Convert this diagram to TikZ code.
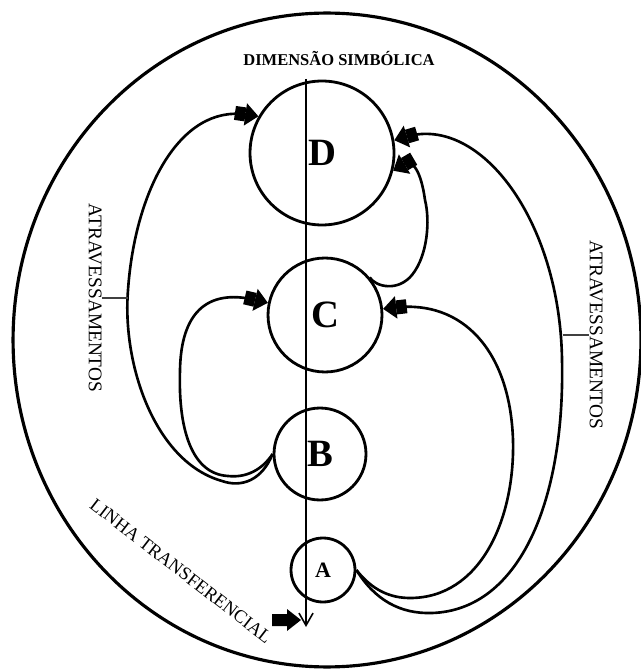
\documentclass[tikz,border=0pt]{standalone}
\usepackage{fontspec}
\setmainfont{Liberation Serif}
\usetikzlibrary{arrows.meta}
\begin{document}
\begin{tikzpicture}[x=0.02cm,y=-0.02cm,
  ring/.style={circle,draw,line width=1.6pt,inner sep=0pt,
    font=\bfseries\fontsize{22}{22}\selectfont},
  loopline/.style={line width=1.5pt},
  fat/.style={-{Rectangle[length=6pt,width=8pt]Triangle[length=7.5pt,width=12.5pt]}},
  caption/.style={inner sep=0pt,font=\fontsize{11}{11}\selectfont},
  tick/.style={line width=0.6pt,draw=black!75}]
\useasboundingbox (0,0) rectangle (640,671);

% outer boundary
\draw[line width=1.8pt] (327,340) ellipse [x radius=6.28cm, y radius=6.54cm];

% the four levels
\node[ring,minimum size=2.88cm] (D) at (322,153) {D};
\node[ring,minimum size=2.28cm] (C) at (325,315) {C};
\node[ring,minimum size=1.84cm] (B) at (320,454) {B};
\node[ring,minimum size=1.28cm,font=\bfseries\fontsize{12.5}{12.5}\selectfont] (A) at (323,570) {A};

% symbolic axis
\coordinate (axtop) at (306,79);
\coordinate (axbot) at (306,627);
\draw[line width=0.9pt,-{Straight Barb[length=7pt,width=8pt,line width=0.9pt]}] (axtop) -- (axbot);
\node[font=\bfseries\fontsize{9.4}{9.4}\selectfont,anchor=base,inner sep=0pt] (dim) at (339,66) {DIMENSÃO SIMBÓLICA};

% loops from B
\draw[loopline,fat] (B.180) .. controls (262,480) and (242,488) .. (222,481)
  .. controls (155,462) and (122,365) .. (128,290)
  .. controls (135,190) and (180,105) .. (D.150);
\draw[loopline,fat] (B.180) .. controls (262,470) and (246,478) .. (228,476)
  .. controls (192,474) and (178,430) .. (180,370)
  .. controls (181,315) and (205,288) .. (C.168);

% loops from A
\draw[loopline,fat] (A.0) .. controls (372,590) and (390,598) .. (410,598)
  .. controls (480,598) and (515,520) .. (513,440)
  .. controls (510,350) and (462,300) .. (C.6);
\draw[loopline,fat] (A.0) .. controls (375,600) and (400,614) .. (432,613)
  .. controls (520,610) and (565,500) .. (562,360)
  .. controls (560,220) and (480,115) .. (D.10);

% loop from C to D
\draw[loopline,fat] (C.40) .. controls (376,287) and (398,292) .. (412,275)
  .. controls (428,255) and (430,220) .. (425,200)
  .. controls (422,178) and (415,158) .. (D.-14);

% side labels
\coordinate (lk) at (128,295);
\coordinate (rk) at (563,325);
\node[caption,rotate=-90] (atl) at (95,298) {ATRAVESSAMENTOS};
\node[caption,rotate=-90] (atr) at (596,335) {ATRAVESSAMENTOS};
\draw[tick] (atl.north) -- (atl.north -| lk);
\draw[tick] (atr.south) -- (atr.south -| rk);

% transference line label and pointer
\node[inner sep=0pt,font=\fontsize{10.5}{10.5}\selectfont,rotate=-37.7] (lt) at (181,571) {LINHA TRANSFERENCIAL};
\fill (272,614) -- (287,614) -- (287,609) -- (301,620) -- (287,631) -- (287,626) -- (272,626) -- cycle;
\end{tikzpicture}
\end{document}
